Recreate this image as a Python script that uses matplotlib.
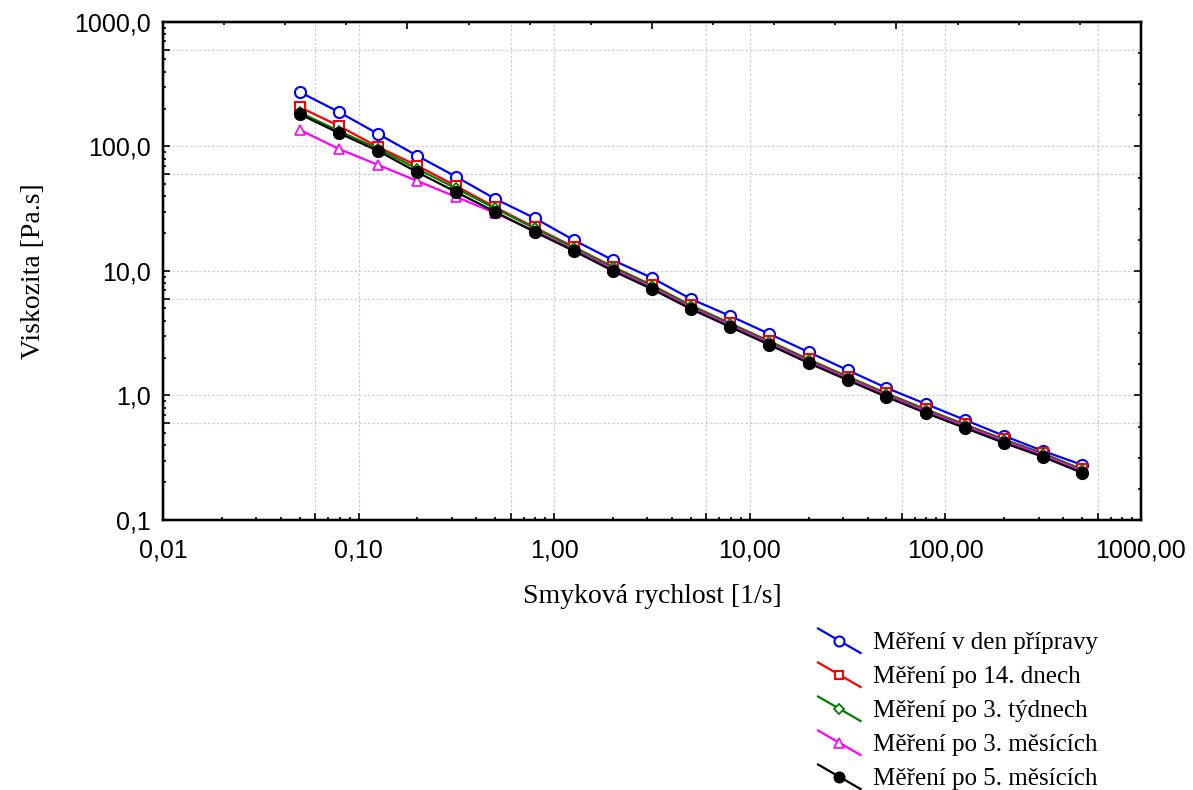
import matplotlib
matplotlib.use('Agg')
import matplotlib.pyplot as plt
import matplotlib.ticker as mticker
from matplotlib.legend_handler import HandlerLine2D
from matplotlib.lines import Line2D
import numpy as np

# shear rate [1/s]
rate = [0.05, 0.0794, 0.126, 0.2, 0.316, 0.5, 0.794, 1.26, 2.0, 3.16, 5.0,
        7.94, 12.6, 20.0, 31.6, 50.0, 79.4, 126.0, 200.0, 316.0, 500.0]

# viscosity [Pa.s]
den_pripravy = [274, 189, 126, 84, 57, 37.9, 26.6, 17.7, 12.2, 8.8, 5.96,
                4.35, 3.12, 2.23, 1.60, 1.15, 0.855, 0.636, 0.473, 0.358, 0.277]
po_14_dnech = [207, 146, 99, 70, 48, 32.5, 22.4, 15.6, 10.8, 7.7, 5.3,
               3.80, 2.73, 1.95, 1.42, 1.04, 0.775, 0.585, 0.443, 0.342, 0.255]
po_3_tydnech = [188, 133, 96, 66, 46, 31.8, 22.0, 15.4, 10.7, 7.6, 5.25,
                3.77, 2.70, 1.93, 1.41, 1.03, 0.768, 0.580, 0.440, 0.340, 0.253]
po_3_mesicich = [136, 95.5, 71, 52.8, 39.3, 29.2, 21.0, 14.8, 10.3, 7.35, 5.08,
                 3.65, 2.62, 1.87, 1.37, 1.0, 0.745, 0.565, 0.428, 0.331, 0.246]
po_5_mesicich = [182, 128, 92, 62, 43, 29.8, 20.6, 14.5, 10.0, 7.16, 4.95,
                 3.55, 2.55, 1.82, 1.33, 0.973, 0.723, 0.548, 0.415, 0.321, 0.239]

labels = ['Měření v den přípravy', 'Měření po 14. dnech', 'Měření po 3. týdnech',
          'Měření po 3. měsících', 'Měření po 5. měsících']


class DiagHandler(HandlerLine2D):
    # legend handle drawn as a falling diagonal line with the marker in the middle
    def create_artists(self, legend, orig_handle, xdescent, ydescent,
                       width, height, fontsize, trans):
        x0, x1 = -xdescent, -xdescent + width
        y0, y1 = -ydescent + height * 1.2, -ydescent - height * 0.2
        line = Line2D([x0, x1], [y0, y1], color=orig_handle.get_color(),
                      lw=orig_handle.get_linewidth())
        mk = Line2D([(x0 + x1) / 2], [(y0 + y1) / 2],
                    marker=orig_handle.get_marker(),
                    ms=orig_handle.get_markersize() * 0.9,
                    mfc=orig_handle.get_markerfacecolor(),
                    mec=orig_handle.get_markeredgecolor(),
                    mew=orig_handle.get_markeredgewidth(), linestyle='none')
        line.set_transform(trans)
        mk.set_transform(trans)
        return [line, mk]


fig = plt.figure(figsize=(11.93, 7.90), dpi=100)
ax = fig.add_axes([0.1366, 0.3418, 0.8198, 0.6304])

serif = ['Liberation Serif', 'DejaVu Serif']
sans = ['Liberation Sans', 'DejaVu Sans']

ax.plot(rate, den_pripravy, color='#0000ff', lw=1.6, marker='o', ms=8,
        mfc='white', mec='#0000ff', mew=1.5, label=labels[0])
ax.plot(rate, po_14_dnech, color='#ff0000', lw=1.6, marker='s', ms=7,
        mfc='white', mec='#ff0000', mew=1.5, label=labels[1])
ax.plot(rate, po_3_tydnech, color='#008000', lw=1.6, marker='D', ms=5.5,
        mfc='white', mec='#008000', mew=1.3, label=labels[2])
ax.plot(rate, po_3_mesicich, color='#ff00ff', lw=1.6, marker='^', ms=7.5,
        mfc='white', mec='#ff00ff', mew=1.2, label=labels[3])
ax.plot(rate, po_5_mesicich, color='black', lw=1.6, marker='o', ms=8.5,
        mfc='black', mec='black', mew=1, label=labels[4])

ax.set_xscale('log')
ax.set_yscale('log')
ax.set_xlim(0.01, 1000)
ax.set_ylim(0.1, 1000)

# major ticks (and grid) at each decade and at 6x each decade
xmaj = [m * 10.0 ** k for k in range(-2, 3) for m in (1, 6)] + [1000.0]
ymaj = [m * 10.0 ** k for k in range(-1, 3) for m in (1, 6)] + [1000.0]
ax.xaxis.set_major_locator(mticker.FixedLocator(xmaj))
ax.yaxis.set_major_locator(mticker.FixedLocator(ymaj))
ax.xaxis.set_minor_locator(mticker.LogLocator(base=10, subs=[2, 3, 4, 5, 7, 8, 9], numticks=10))
ax.yaxis.set_minor_locator(mticker.LogLocator(base=10, subs=[2, 3, 4, 5, 7, 8, 9], numticks=10))


def dec_fmt(nd):
    def f(v, p):
        e = np.log10(v)
        if abs(e - round(e)) > 1e-6:
            return ''
        return f'{v:.{nd}f}'.replace('.', ',')
    return f


ax.xaxis.set_major_formatter(mticker.FuncFormatter(dec_fmt(2)))
ax.yaxis.set_major_formatter(mticker.FuncFormatter(dec_fmt(1)))
ax.xaxis.set_minor_formatter(mticker.NullFormatter())
ax.yaxis.set_minor_formatter(mticker.NullFormatter())

ax.grid(True, which='major', color='#c8c8c8', lw=0.8, ls=(0, (2, 2)))
ax.set_axisbelow(True)

ax.tick_params(which='both', direction='in', top=False, right=False, width=1.2)
ax.tick_params(which='major', length=5)
ax.tick_params(which='minor', length=2.2)
ax.tick_params(axis='x', which='major', pad=13)
ax.tick_params(axis='y', which='major', pad=9)
for lab in ax.get_xticklabels() + ax.get_yticklabels():
    lab.set_family(sans)
    lab.set_fontsize(18)
for sp in ax.spines.values():
    sp.set_linewidth(1.6)

# top and right axes carry evenly spaced ticks (16 divisions)
tx = ax.twiny()
tx.set_xlim(0, 16)
tx.set_xticks(range(0, 17, 4))
tx.set_xticks(range(17), minor=True)
tx.tick_params(axis='x', which='both', direction='in', labeltop=False, width=1.2)
tx.tick_params(axis='x', which='major', length=5)
tx.tick_params(axis='x', which='minor', length=2.2)
ty = ax.twinx()
ty.set_ylim(0, 16)
ty.set_yticks(range(0, 17, 4))
ty.set_yticks(range(17), minor=True)
ty.tick_params(axis='y', which='both', direction='in', labelright=False, width=1.2)
ty.tick_params(axis='y', which='major', length=5)
ty.tick_params(axis='y', which='minor', length=2.2)
for t in (tx, ty):
    for sp in t.spines.values():
        sp.set_linewidth(1.6)

ax.set_xlabel('Smyková rychlost [1/s]', family=serif, fontsize=20)
ax.set_ylabel('Viskozita [Pa.s]', family=serif, fontsize=20)
ax.xaxis.set_label_coords(0.5, -0.128)
ax.yaxis.set_label_coords(-0.12, 0.5)

handles, lbls = ax.get_legend_handles_labels()
leg = fig.legend(handles, lbls, loc='upper left', bbox_to_anchor=(0.6857, 0.2),
                 bbox_transform=fig.transFigure, frameon=False,
                 handlelength=1.7, handletextpad=0.5, labelspacing=0.46,
                 borderaxespad=0, borderpad=0,
                 handler_map={Line2D: DiagHandler()},
                 prop={'family': serif, 'size': 18})

fig.savefig('out.png', dpi=100)
